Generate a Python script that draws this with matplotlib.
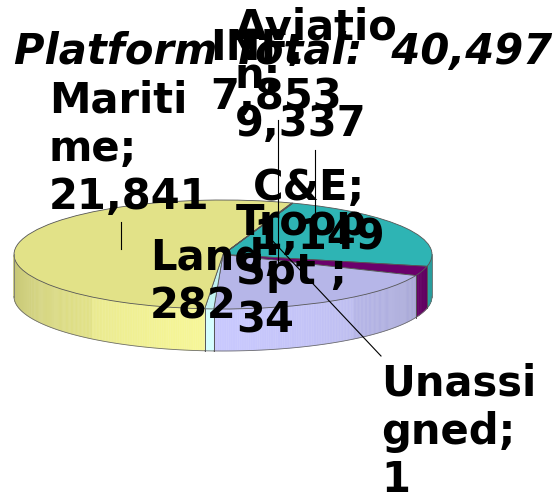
import numpy as np
import matplotlib
matplotlib.use('Agg')
import matplotlib.pyplot as plt
from matplotlib.colors import to_rgb

# data, in the order the slices are laid out (clockwise)
categories = ['Aviation', 'C&E', 'INF', 'Land', 'Maritime', 'Troop Spt ', 'Unassigned']
values = [9337, 1149, 7853, 282, 21841, 34, 1]
colors = ['#2eb4b4', '#6b006b', '#b6b6e8', '#c2f2f2', '#e2e288', '#7a7a7a', '#9999ff']
label_text = ['Aviatio\nn;\n9,337', 'C&E;\n1,149', 'INF;\n7,853', 'Land;\n282',
              'Mariti\nme;\n21,841', 'Troop\nSpt ;\n34', 'Unassi\ngned;\n1']
total = sum(values)

# pie geometry in pixels (the ellipse of the top face)
W, H = 556, 498
cx, cy, rx, ry = 223, 254.5, 209, 54.5
depth = 42 / ry
start = 70.5

fig = plt.figure(figsize=(W / 100, H / 100), dpi=100)
ax = fig.add_axes([0, 0, 1, 1])


def px(x, y):
    return (x - cx) / rx, (cy - y) / ry


# angles of each slice (clockwise from start)
fr = np.array(values) / total * 360
ends = start - np.cumsum(fr)
begins = ends + fr

# side walls, front half only, drawn as thin shaded strips
for b, e, c in zip(begins, ends, colors):
    lo, hi = e % 360, None
    a0, a1 = e, b
    # bring to a range and clip to visible front (180..360)
    for shift in (-360, 0, 360):
        s0, s1 = max(a0 + shift, 180), min(a1 + shift, 360)
        if s1 <= s0:
            continue
        ts = np.linspace(s0, s1, max(2, int((s1 - s0) * 2) + 1))
        base = np.array(to_rgb(c))
        for t0, t1 in zip(ts[:-1], ts[1:]):
            tm = np.radians((t0 + t1) / 2)
            f = 0.9 + 0.16 * (-np.sin(tm)) - 0.04 * abs(np.cos(tm))
            col = np.clip(base * f + (0.03 if f > 1 else 0), 0, 1)
            tt = np.radians(np.linspace(t0, t1, 3))
            xs = np.concatenate([np.cos(tt), np.cos(tt[::-1])])
            ys = np.concatenate([np.sin(tt), np.sin(tt[::-1]) - depth])
            ax.fill(xs, ys, color=col, lw=0.3, ec=col, zorder=1)
        tt = np.radians(np.linspace(s0, s1, 60))
        ax.plot(np.cos(tt), np.sin(tt) - depth, color='#6e6e6e', lw=0.6, zorder=1.5)
        for t in (s0, s1):
            if t not in (180, 360):
                r = np.radians(t)
                ax.plot([np.cos(r)] * 2, [np.sin(r), np.sin(r) - depth],
                        color='#555555', lw=0.6, zorder=1.5)

# outer vertical edges of the cylinder
for t in (180, 360):
    r = np.radians(t)
    ax.plot([np.cos(r)] * 2, [0, -depth], color='#777777', lw=0.6, zorder=1.5)

# top face
ax.pie(values, colors=colors, startangle=start, counterclock=False, radius=1,
       wedgeprops=dict(edgecolor='#555555', linewidth=0.6), frame=True)

ax.set_aspect('auto')
ax.set_xlim(px(0, 0)[0], px(W, 0)[0])
ax.set_ylim(px(0, H)[1], px(0, 0)[1])
ax.axis('off')

# leader lines (pixel coordinates)
leaders = [((121, 222), (121, 249)),
           ((278, 120), (278, 262)),
           ((315, 150), (315, 212)),
           ((381, 356), (268, 236))]
for p0, p1 in leaders:
    a, b = px(*p0), px(*p1)
    ax.plot([a[0], b[0]], [a[1], b[1]], color='black', lw=0.8, zorder=2.5)

# data labels (left, top in pixels)
label_pos = [(235, 6), (253, 167), (210, 27), (150, 237), (49, 79), (236, 202), (381, 362)]
fs = 30
for txt, (x, y) in zip(label_text, label_pos):
    ax.text(*px(x, y), txt, fontsize=fs, fontweight='bold', ha='left', va='top',
            linespacing=1.2, zorder=3, family='DejaVu Sans')

ax.text(*px(283, 52), 'Platform Total:  ' + f'{total:,}', fontsize=fs,
        fontweight='bold', fontstyle='italic', ha='center', va='center', zorder=3.5)

fig.savefig('out.png', dpi=100)
